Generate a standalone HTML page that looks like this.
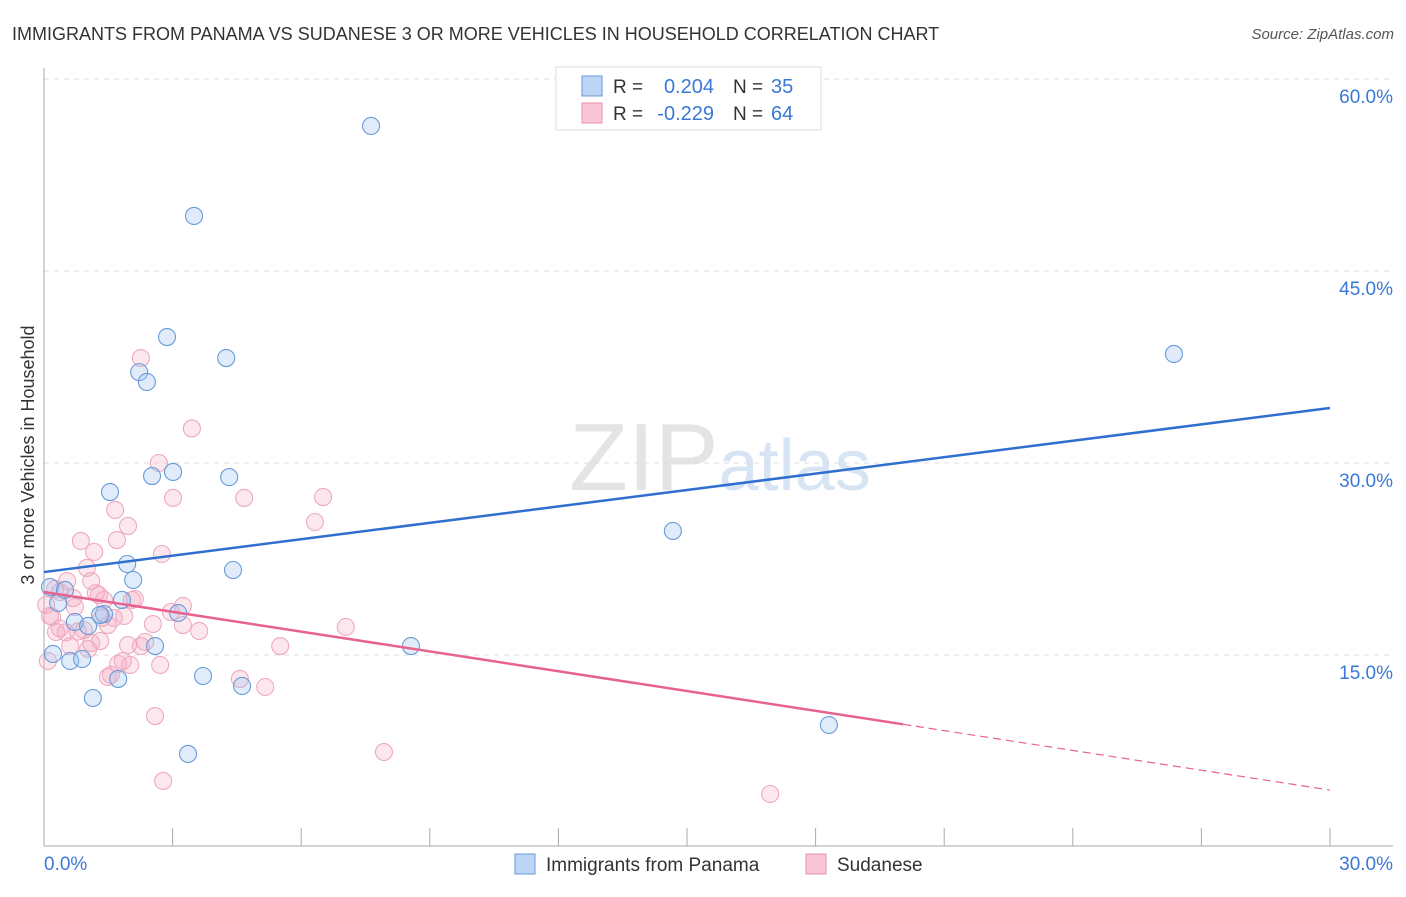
<!DOCTYPE html>
<html><head><meta charset="utf-8"><style>
body{margin:0;background:#fff;font-family:"Liberation Sans",sans-serif}
svg text{font-family:"Liberation Sans",sans-serif}
</style></head><body>
<svg id="chart" width="1406" height="892" xmlns="http://www.w3.org/2000/svg">
<text x="12" y="40" font-size="18" fill="#333">IMMIGRANTS FROM PANAMA VS SUDANESE 3 OR MORE VEHICLES IN HOUSEHOLD CORRELATION CHART</text>
<text x="1394" y="39" font-size="15" fill="#555" font-style="italic" text-anchor="end">Source: ZipAtlas.com</text>
<text x="720" y="490" font-size="96" fill="#e4e4e4" text-anchor="middle" font-family="Liberation Serif">ZIP<tspan fill="#d6e4f4" font-family="Liberation Sans" font-size="72">atlas</tspan></text>
<g id="grid"></g>
<g id="axes"></g>
<g id="marks"></g>
<text transform="translate(34,455) rotate(-90)" font-size="18" fill="#333" text-anchor="middle">3 or more Vehicles in Household</text>
<g>
<rect x="556" y="67" width="265" height="63" fill="#fff" stroke="#ddd"/>
<rect x="582" y="76" width="20" height="20" fill="#bcd5f5" stroke="#6a9ad8"/>
<rect x="582" y="103" width="20" height="20" fill="#f9c6d5" stroke="#e890ac"/>
<text x="613" y="93" font-size="19" fill="#333">R =</text>
<text x="714" y="93" font-size="20" fill="#3a78d8" text-anchor="end">0.204</text>
<text x="733" y="93" font-size="19" fill="#333">N =</text>
<text x="771" y="93" font-size="20" fill="#3a78d8">35</text>
<text x="613" y="120" font-size="19" fill="#333">R =</text>
<text x="714" y="120" font-size="20" fill="#3a78d8" text-anchor="end">-0.229</text>
<text x="733" y="120" font-size="19" fill="#333">N =</text>
<text x="771" y="120" font-size="20" fill="#3a78d8">64</text>
</g>
<g>
<rect x="515" y="854" width="20" height="20" fill="#bcd5f5" stroke="#6a9ad8"/>
<text x="546" y="871" font-size="19" fill="#333">Immigrants from Panama</text>
<rect x="806" y="854" width="20" height="20" fill="#f9c6d5" stroke="#e890ac"/>
<text x="837" y="871" font-size="19" fill="#333">Sudanese</text>
</g>
</svg>
<script>
const yTicks=[15,30,45,60];
const yTickLabels=["15.0%","30.0%","45.0%","60.0%"];
const xTickLabels=["0.0%","30.0%"];
const blueX=[7.63,3.50,2.87,4.25,2.22,2.40,26.36,1.54,3.01,2.52,4.32,14.67,1.94,4.41,2.08,1.82,0.14,0.33,0.49,1.40,0.72,1.03,3.13,2.59,8.56,0.21,0.61,0.89,1.73,3.71,4.62,1.14,3.36,18.31,1.31];
const blueY=[56.33,49.3,39.84,38.2,37.1,36.33,38.52,27.73,29.3,28.98,28.9,24.69,22.11,21.64,20.86,19.3,20.31,19.06,20.08,18.2,17.58,17.27,18.28,15.7,15.7,15.08,14.53,14.69,13.13,13.36,12.58,11.64,7.27,9.53,18.13];
const pinkX=[2.26,3.45,2.68,3.01,4.67,6.51,6.32,1.66,1.96,0.86,1.70,1.17,2.75,1.00,0.54,1.10,0.26,0.37,0.68,1.21,1.28,2.05,2.12,0.05,0.72,3.24,0.19,1.35,1.63,1.87,2.96,3.24,2.54,1.49,0.37,0.51,0.79,1.31,1.10,0.61,1.96,2.36,2.26,3.62,7.04,5.51,1.84,2.01,2.71,1.73,1.56,1.49,4.57,5.16,2.59,7.93,2.78,16.94,0.09,0.14,0.93,1.40,0.28,1.03];
const pinkY=[38.2,32.7,30.0,27.27,27.27,27.34,25.39,26.33,25.08,23.91,23.98,23.05,22.89,21.8,20.78,20.78,20.16,19.92,19.45,19.84,19.69,19.3,19.38,18.91,18.75,18.83,17.97,17.89,17.89,18.05,18.36,17.34,17.42,17.34,17.08,16.77,16.84,16.09,15.94,15.7,15.78,16.02,15.7,16.88,17.19,15.7,14.53,14.22,14.22,14.3,13.44,13.28,13.13,12.5,10.23,7.42,5.16,4.14,14.53,18.05,16.95,19.3,16.8,15.47];
const blueTrend=[21.48,34.3];
const pinkTrend=[19.92,4.45];
const pinkSolidEnd=20.04;
const X=v=>44+v*(1286/30), Y=v=>847-v*12.8;
const NS="http://www.w3.org/2000/svg";
function mk(p,t,a){const e=document.createElementNS(NS,t);for(const k in a)e.setAttribute(k,a[k]);document.getElementById(p).appendChild(e);return e;}
yTicks.forEach((t,i)=>{
 const l=mk('grid','line',{x1:44,x2:1393,y1:Y(t),y2:Y(t),stroke:'#ddd','stroke-dasharray':'5,5'});
 
 
 const tx=mk('axes','text',{x:1393,y:Y(t)+24,'font-size':19,fill:'#3a78d8','text-anchor':'end'});tx.textContent=yTickLabels[i];
 
 
});
const la=mk('axes','line',{x1:44,x2:44,y1:68,y2:846,stroke:'#aaa'});


const lb=mk('axes','line',{x1:44,x2:1393,y1:846,y2:846,stroke:'#aaa'});


for(let i=0;i<=10;i++){const t=mk('axes','line',{x1:X(i*3),x2:X(i*3),y1:828,y2:846,stroke:'#aaa'});
 
 }
[[0,'start',44],[30,'end',1393]].forEach((d,i)=>{const t=mk('axes','text',{x:d[2],y:870,'font-size':19,fill:'#3a78d8','text-anchor':d[1]});t.textContent=xTickLabels[i];
 
 });
pinkX.forEach((x,i)=>{const c=mk('marks','circle',{cx:X(x),cy:Y(pinkY[i]),r:8.5,fill:'rgba(244,168,192,0.28)',stroke:'#eeaac0','stroke-width':1.1});
 
 });
blueX.forEach((x,i)=>{const c=mk('marks','circle',{cx:X(x),cy:Y(blueY[i]),r:8.5,fill:'rgba(160,196,240,0.32)',stroke:'#6a9ad8','stroke-width':1.1});
 
 });
const bt=mk('marks','line',{x1:X(0),y1:Y(blueTrend[0]),x2:X(30),y2:Y(blueTrend[1]),stroke:'#2f6fd0','stroke-width':2.5});


const py=x=>pinkTrend[0]+(pinkTrend[1]-pinkTrend[0])*x/30;
const ps=mk('marks','line',{x1:X(0),y1:Y(py(0)),x2:X(pinkSolidEnd),y2:Y(py(pinkSolidEnd)),stroke:'#e8628f','stroke-width':2.5});


const pd=mk('marks','line',{x1:X(pinkSolidEnd),y1:Y(py(pinkSolidEnd)),x2:X(30),y2:Y(py(30)),stroke:'#e8628f','stroke-width':1.2,'stroke-dasharray':'8,5'});


</script>
</body></html>
